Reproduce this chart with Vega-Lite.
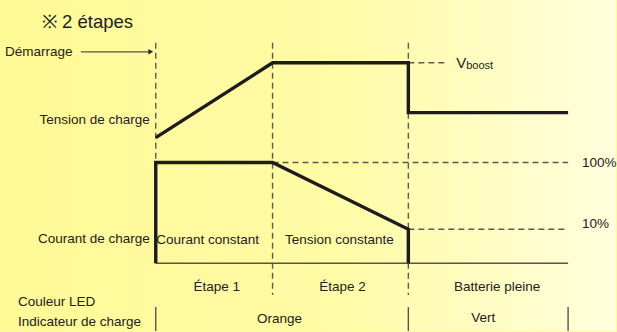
{
  "$schema": "https://vega.github.io/schema/vega-lite/v6.json",
  "width": 617,
  "height": 332,
  "autosize": {"type": "fit", "contains": "padding"},
  "padding": 0,
  "background": "#FFFBA0",
  "config": {"view": {"stroke": null}, "text": {"font": "Liberation Sans", "color": "#222222"}},
  "datasets": {
    "bg": [{"x": 0, "x2": 617, "y": 0, "y2": 332}],
    "curves": [
      {"series": "Tension", "i": 1, "x": 156, "y": 138},
      {"series": "Tension", "i": 2, "x": 273, "y": 63},
      {"series": "Tension", "i": 3, "x": 409, "y": 63},
      {"series": "Tension", "i": 4, "x": 409, "y": 113},
      {"series": "Tension", "i": 5, "x": 569, "y": 113},
      {"series": "Courant", "i": 1, "x": 156, "y": 264},
      {"series": "Courant", "i": 2, "x": 156, "y": 163},
      {"series": "Courant", "i": 3, "x": 273, "y": 163},
      {"series": "Courant", "i": 4, "x": 409, "y": 230},
      {"series": "Courant", "i": 5, "x": 409, "y": 264}
    ],
    "dashed": [
      {"x": 156, "x2": 156, "y": 43, "y2": 263},
      {"x": 273, "x2": 273, "y": 43, "y2": 296},
      {"x": 409, "x2": 409, "y": 43, "y2": 296},
      {"x": 409, "x2": 449, "y": 63, "y2": 63},
      {"x": 273, "x2": 569, "y": 163, "y2": 163},
      {"x": 409, "x2": 569, "y": 230, "y2": 230}
    ],
    "solid": [
      {"x": 156, "x2": 569, "y": 264, "y2": 264},
      {"x": 156, "x2": 156, "y": 308, "y2": 332},
      {"x": 409, "x2": 409, "y": 308, "y2": 332},
      {"x": 569, "x2": 569, "y": 308, "y2": 332},
      {"x": 81, "x2": 149, "y": 52, "y2": 52}
    ],
    "arrow": [{"x": 151, "y": 52}],
    "title": [{"x": 42, "y": 22, "label": "※ 2 étapes"}],
    "bigV": [{"x": 457, "y": 63, "label": "V"}],
    "leftText": [
      {"x": 5, "y": 52, "label": "Démarrage"},
      {"x": 18, "y": 303, "label": "Couleur LED"},
      {"x": 18, "y": 323, "label": "Indicateur de charge"},
      {"x": 583, "y": 163, "label": "100%"},
      {"x": 583, "y": 225, "label": "10%"}
    ],
    "subText": [{"x": 467, "y": 66, "label": "boost"}],
    "rightText": [
      {"x": 150, "y": 120, "label": "Tension de charge"},
      {"x": 150, "y": 240, "label": "Courant de charge"}
    ],
    "centerText": [
      {"x": 208, "y": 241, "label": "Courant constant"},
      {"x": 340, "y": 241, "label": "Tension constante"},
      {"x": 217, "y": 288, "label": "Étape 1"},
      {"x": 343, "y": 288, "label": "Étape 2"},
      {"x": 498, "y": 288, "label": "Batterie pleine"},
      {"x": 280, "y": 320, "label": "Orange"},
      {"x": 484, "y": 319, "label": "Vert"}
    ]
  },
  "layer": [
    {
      "data": {"name": "bg"},
      "mark": {"type": "rect", "fill": {"gradient": "linear", "x1": 0, "y1": 0, "x2": 1, "y2": 0, "stops": [{"offset": 0, "color": "#FFF996"}, {"offset": 0.55, "color": "#FFFBA6"}, {"offset": 1, "color": "#FFFEDC"}]}},
      "encoding": {
        "x": {"field": "x", "type": "quantitative", "scale": {"domain": [0, 617], "nice": false, "zero": false}, "axis": null},
        "x2": {"field": "x2"},
        "y": {"field": "y", "type": "quantitative", "scale": {"domain": [0, 332], "reverse": true, "nice": false, "zero": false}, "axis": null},
        "y2": {"field": "y2"}
      }
    },
    {
      "data": {"name": "dashed"},
      "mark": {"type": "rule", "color": "#5a5a50", "strokeWidth": 1.4, "strokeDash": [6, 4]},
      "encoding": {
        "x": {"field": "x", "type": "quantitative"},
        "x2": {"field": "x2"},
        "y": {"field": "y", "type": "quantitative"},
        "y2": {"field": "y2"}
      }
    },
    {
      "data": {"name": "solid"},
      "mark": {"type": "rule", "color": "#555550", "strokeWidth": 1.4},
      "encoding": {
        "x": {"field": "x", "type": "quantitative"},
        "x2": {"field": "x2"},
        "y": {"field": "y", "type": "quantitative"},
        "y2": {"field": "y2"}
      }
    },
    {
      "data": {"name": "arrow"},
      "mark": {"type": "point", "shape": "triangle-right", "filled": true, "color": "#222222", "size": 30, "opacity": 1},
      "encoding": {
        "x": {"field": "x", "type": "quantitative"},
        "y": {"field": "y", "type": "quantitative"}
      }
    },
    {
      "data": {"name": "curves"},
      "mark": {"type": "line", "color": "#1c1c1c", "strokeWidth": 3.4, "strokeJoin": "miter"},
      "encoding": {
        "x": {"field": "x", "type": "quantitative"},
        "y": {"field": "y", "type": "quantitative"},
        "detail": {"field": "series"},
        "order": {"field": "i", "type": "quantitative"}
      }
    },
    {
      "data": {"name": "title"},
      "mark": {"type": "text", "align": "left", "baseline": "middle", "fontSize": 18.5},
      "encoding": {
        "x": {"field": "x", "type": "quantitative"},
        "y": {"field": "y", "type": "quantitative"},
        "text": {"field": "label"}
      }
    },
    {
      "data": {"name": "bigV"},
      "mark": {"type": "text", "align": "left", "baseline": "middle", "fontSize": 15},
      "encoding": {
        "x": {"field": "x", "type": "quantitative"},
        "y": {"field": "y", "type": "quantitative"},
        "text": {"field": "label"}
      }
    },
    {
      "data": {"name": "leftText"},
      "mark": {"type": "text", "align": "left", "baseline": "middle", "fontSize": 13.5},
      "encoding": {
        "x": {"field": "x", "type": "quantitative"},
        "y": {"field": "y", "type": "quantitative"},
        "text": {"field": "label"}
      }
    },
    {
      "data": {"name": "subText"},
      "mark": {"type": "text", "align": "left", "baseline": "middle", "fontSize": 11},
      "encoding": {
        "x": {"field": "x", "type": "quantitative"},
        "y": {"field": "y", "type": "quantitative"},
        "text": {"field": "label"}
      }
    },
    {
      "data": {"name": "rightText"},
      "mark": {"type": "text", "align": "right", "baseline": "middle", "fontSize": 13.5},
      "encoding": {
        "x": {"field": "x", "type": "quantitative"},
        "y": {"field": "y", "type": "quantitative"},
        "text": {"field": "label"}
      }
    },
    {
      "data": {"name": "centerText"},
      "mark": {"type": "text", "align": "center", "baseline": "middle", "fontSize": 13.5},
      "encoding": {
        "x": {"field": "x", "type": "quantitative"},
        "y": {"field": "y", "type": "quantitative"},
        "text": {"field": "label"}
      }
    }
  ]
}
